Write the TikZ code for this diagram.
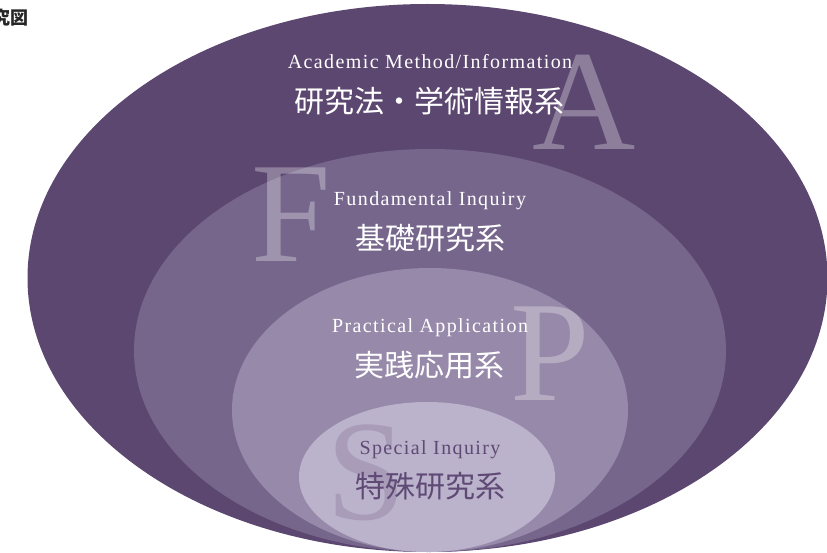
\documentclass[tikz,border=0pt]{standalone}
\usepackage{fontspec}
\setmainfont{Liberation Serif}
\newfontfamily\enlabel{Liberation Serif}[LetterSpace=7]
\newfontfamily\cjk{Noto Sans CJK JP}
\usepackage{tikz}
\definecolor{ringA}{HTML}{5C4770}
\definecolor{ringF}{HTML}{76668C}
\definecolor{ringP}{HTML}{9789A9}
\definecolor{ringS}{HTML}{BBB2CB}
\definecolor{inktext}{HTML}{5F4A75}

\begin{document}
\begin{tikzpicture}[x=1pt,y=-1pt,
    entitle/.style={text=white,font=\enlabel\fontsize{20}{20}\selectfont,inner sep=0pt,anchor=base},
    jatitle/.style={text=white,font=\cjk\fontsize{30}{30}\selectfont,inner sep=0pt},
    bigletter/.style={font=\fontsize{143}{143}\selectfont,inner sep=0pt,anchor=base}]
    \useasboundingbox (0,0) rectangle (827,553);
    % nested fields, outer to inner
    \fill[ringA] (427.5,278) ellipse (400pt and 274pt);
    \fill[ringF] (430,350.5) ellipse (296pt and 201.5pt);
    \fill[ringP] (430,410) ellipse (198pt and 142pt);
    \fill[ringS] (427,477) ellipse (128pt and 75pt);
    % initials
    \node[bigletter,text=white,opacity=0.3] (bigA) at (584,150) {A};
    \node[bigletter,text=white,opacity=0.3] (bigF) at (291,262) {F};
    \node[bigletter,text=white,opacity=0.3] (bigP) at (550,400) {P};
    \node[bigletter,text=ringA,opacity=0.2] (bigS) at (366,519) {S};
    % labels
    \node[entitle] (enA) at (430,69) {Academic Method/Information};
    \node[jatitle] (jaA) at (429,101) {研究法・学術情報系};
    \node[entitle] (enF) at (430,206) {Fundamental Inquiry};
    \node[jatitle] (jaF) at (430,238) {基礎研究系};
    \node[entitle] (enP) at (430,332) {Practical Application};
    \node[jatitle] (jaP) at (429,365) {実践応用系};
    \node[entitle,text=inktext] (enS) at (430,454) {Special Inquiry};
    \node[jatitle,text=inktext] (jaS) at (430,486) {特殊研究系};
    % cut-off heading
    \node[anchor=east,inner sep=0pt,text=black!85,font=\cjk\bfseries\fontsize{18}{18}\selectfont] (head) at (29,18) {究図};
\end{tikzpicture}
\end{document}
